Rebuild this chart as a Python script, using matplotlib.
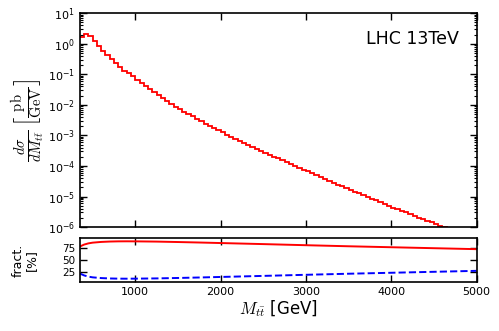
import numpy as np
import matplotlib
matplotlib.use("Agg")
import matplotlib.pyplot as plt

plt.rcParams['mathtext.fontset'] = 'cm'
plt.rcParams['font.family'] = ['DejaVu Sans']

# bin edges of the M_tt histogram (GeV)
bin_edges = list(range(350, 5001, 50))

# log10 of dsigma/dM (pb/GeV) per bin
log10_dsigma = [
    0.22, 0.31, 0.24, 0.08, -0.08, -0.22, -0.36, -0.50, -0.63, -0.76,
    -0.88, -0.97, -1.07, -1.18, -1.28, -1.39, -1.49, -1.59, -1.69, -1.79,
    -1.88, -1.97, -2.06, -2.14, -2.22, -2.30, -2.38, -2.46, -2.54, -2.62,
    -2.69, -2.76, -2.83, -2.90, -2.97, -3.04, -3.11, -3.18, -3.25, -3.31,
    -3.38, -3.44, -3.50, -3.56, -3.63, -3.69, -3.75, -3.81, -3.87, -3.94,
    -4.00, -4.06, -4.12, -4.18, -4.24, -4.30, -4.37, -4.43, -4.49, -4.55,
    -4.61, -4.67, -4.73, -4.79, -4.85, -4.90, -4.96, -5.02, -5.08, -5.13,
    -5.19, -5.25, -5.30, -5.36, -5.41, -5.47, -5.52, -5.58, -5.63, -5.69,
    -5.74, -5.80, -5.85, -5.90, -5.96, -6.01, -6.06, -6.12, -6.17, -6.22,
    -6.27, -6.32, -6.37,
]
dsigma = [10.0 ** v for v in log10_dsigma]

# fraction panel
frac_mass = [350, 375, 400, 450, 500, 600, 700, 800, 900, 1000, 1250, 1500,
             1750, 2000, 2500, 3000, 3500, 4000, 4500, 5000]
frac_red = [78, 80, 82, 84.5, 86, 87.5, 88.3, 88.7, 88.8, 88.7, 88.2, 87.3,
            86.3, 85.2, 83, 80.7, 78.5, 76.5, 74.5, 72.5]
frac_blue = [22, 20, 18, 15.5, 14, 12.5, 11.7, 11.3, 11.2, 11.3, 11.8, 12.7,
             13.7, 14.8, 17, 19.3, 21.5, 23.5, 25.5, 27.5]

xticks = [1000, 2000, 3000, 4000, 5000]
frac_ticks = [25, 50, 75]

fig = plt.figure(figsize=(4.99, 3.31), dpi=100)
ax1 = fig.add_axes([0.160, 0.314, 0.795, 0.646])
ax2 = fig.add_axes([0.160, 0.149, 0.795, 0.131])

ax1.stairs(dsigma, bin_edges, baseline=None, color='red', lw=1.3)
ax1.set_yscale('log')
ax1.set_ylim(1e-6, 1e1)
ax1.set_xlim(350, 5000)
ax1.set_xticks(xticks)
ax1.set_xticklabels([])
ax1.text(0.955, 0.88, 'LHC 13TeV', transform=ax1.transAxes, ha='right',
         va='center', fontsize=12.5)
ax1.set_ylabel(r'$\frac{d\sigma}{dM_{t\bar{t}}}\,\left[\frac{\rm pb}{\rm GeV}\right]$',
               fontsize=15, labelpad=0)

ax2.plot(frac_mass, frac_red, color='red', lw=1.4)
ax2.plot(frac_mass, frac_blue, color='blue', lw=1.4, ls='--')
ax2.set_xlim(350, 5000)
ax2.set_ylim(5, 95)
ax2.set_xticks(xticks)
ax2.set_yticks(frac_ticks)
ax2.set_ylabel('fract.\n[%]', fontsize=9, linespacing=1.0)
ax2.yaxis.set_label_coords(-0.105, 0.5)
ax2.set_xlabel(r'$M_{t\bar{t}}$ [GeV]', fontsize=12, labelpad=1)

for ax in (ax1, ax2):
    ax.tick_params(which='both', direction='in', top=True, right=True,
                   labelsize=8)
    ax.tick_params(which='major', length=5, width=1)
    ax.tick_params(which='minor', length=2.5, width=0.8)
    for s in ax.spines.values():
        s.set_linewidth(1.2)
ax2.tick_params(axis='y', labelsize=7.5, pad=3)

fig.savefig('out.png', dpi=100)
